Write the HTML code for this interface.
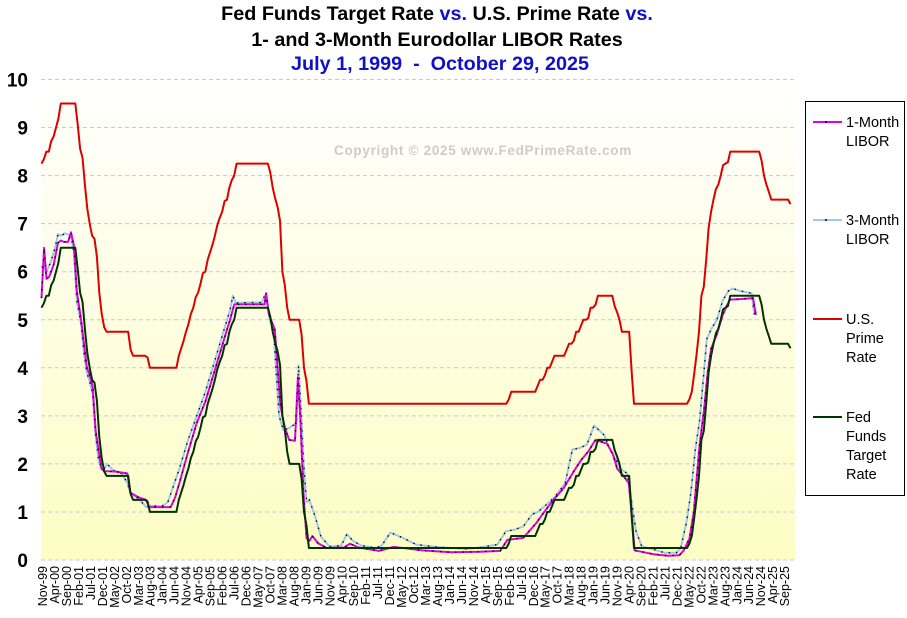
<!DOCTYPE html>
<html><head><meta charset="utf-8"><style>
body{margin:0;background:#fff;}
svg{display:block;font-family:"Liberation Sans",Arial,sans-serif;}
</style></head><body>
<svg id="s" width="907" height="618" viewBox="0 0 907 618" xmlns="http://www.w3.org/2000/svg">
<defs><linearGradient id="bg" x1="0" y1="0" x2="0" y2="1"><stop offset="0" stop-color="#ffffff"/><stop offset="1" stop-color="#fdfdc4"/></linearGradient></defs>
<rect x="41" y="79" width="754" height="481" fill="url(#bg)"/>
<g id="grid"></g>
<text x="437" y="20" text-anchor="middle" font-size="19.8" font-weight="bold">Fed Funds Target Rate <tspan fill="#1010c8">vs.</tspan> U.S. Prime Rate <tspan fill="#1010c8">vs.</tspan></text>
<text x="437" y="46" text-anchor="middle" font-size="19.8" font-weight="bold">1- and 3-Month Eurodollar LIBOR Rates</text>
<text x="440" y="70" text-anchor="middle" font-size="19.8" font-weight="bold" fill="#1010c8" xml:space="preserve">July 1, 1999  -  October 29, 2025</text>
<text x="483" y="155" text-anchor="middle" font-size="13.5" font-weight="bold" fill="#cccccc" letter-spacing="0.7">Copyright © 2025 www.FedPrimeRate.com</text>
<g id="series"></g>
<g id="xl" font-size="12.5"></g>
<rect x="805.5" y="101.5" width="99" height="394" fill="#fff" stroke="#000" stroke-width="1"/>
<g font-size="14.5">
<line x1="813" y1="122" x2="842" y2="122" stroke="#e000e0" stroke-width="2"/><circle cx="826" cy="122" r="1" fill="#000"/>
<text x="846" y="127">1-Month</text><text x="846" y="146">LIBOR</text>
<line x1="813" y1="220" x2="842" y2="220" stroke="#a0c8e8" stroke-width="2"/><circle cx="826" cy="220" r="1" fill="#000"/>
<text x="846" y="225">3-Month</text><text x="846" y="244">LIBOR</text>
<line x1="813" y1="319" x2="842" y2="319" stroke="#dd0000" stroke-width="2"/>
<text x="846" y="324">U.S.</text><text x="846" y="343">Prime</text><text x="846" y="362">Rate</text>
<line x1="813" y1="417" x2="842" y2="417" stroke="#003300" stroke-width="2"/>
<text x="846" y="422">Fed</text><text x="846" y="441">Funds</text><text x="846" y="460">Target</text><text x="846" y="479">Rate</text>
</g>
</svg>
<script>
var NS="http://www.w3.org/2000/svg";
function el(p,t,a,txt){var e=document.createElementNS(NS,t);for(var k in a)e.setAttribute(k,a[k]);if(txt!=null)e.textContent=txt;p.appendChild(e);return e;}
function X(t){return 32+(t-1999.5)*28.9;}
function Y(v){return 560-v*48.05;}
var g=document.getElementById('grid');
for(var i=0;i<=10;i++){el(g,'line',{x1:41,x2:795,y1:Y(i),y2:Y(i),stroke:'#c8c8d8','stroke-dasharray':'4 3','stroke-width':1});
el(g,'text',{x:28,y:Y(i)+7,'text-anchor':'end','font-size':19,'font-weight':'bold'},String(i));}
var mn=['Jan','Feb','Mar','Apr','May','Jun','Jul','Aug','Sep','Oct','Nov','Dec'];
var xl=document.getElementById('xl');
for(var i=0;i<63;i++){var m=10+i*5;var yr=1999+Math.floor(m/12);var mo=m%12;
var lab=mn[mo]+'-'+String(yr%100).padStart(2,'0');var x=43+i*11.97+4;
el(xl,'text',{x:0,y:0,'text-anchor':'end',transform:'translate('+x+',566) rotate(-90)'},lab);}
function d(y,m,dd){return y+(m-1)/12+(dd-1)/365;}
var ch=[[1999.5,5.25],[d(1999,11,16),5.5],[d(2000,2,2),5.75],[d(2000,3,21),6],[d(2000,5,16),6.5],[d(2001,1,3),6],[d(2001,1,31),5.5],[d(2001,3,20),5],[d(2001,4,18),4.5],[d(2001,5,15),4],[d(2001,6,27),3.75],[d(2001,8,21),3.5],[d(2001,9,17),3],[d(2001,10,2),2.5],[d(2001,11,6),2],[d(2001,12,11),1.75],[d(2002,11,6),1.25],[d(2003,6,25),1],[d(2004,6,30),1.25],[d(2004,8,10),1.5],[d(2004,9,21),1.75],[d(2004,11,10),2],[d(2004,12,14),2.25],[d(2005,2,2),2.5],[d(2005,3,22),2.75],[d(2005,5,3),3],[d(2005,6,30),3.25],[d(2005,8,9),3.5],[d(2005,9,20),3.75],[d(2005,11,1),4],[d(2005,12,13),4.25],[d(2006,1,31),4.5],[d(2006,3,28),4.75],[d(2006,5,10),5],[d(2006,6,29),5.25],[d(2007,9,18),4.75],[d(2007,10,31),4.5],[d(2007,12,11),4.25],[d(2008,1,22),3.5],[d(2008,1,30),3],[d(2008,3,18),2.25],[d(2008,4,30),2],[d(2008,10,8),1.5],[d(2008,10,29),1],[d(2008,12,16),0.25],[d(2015,12,16),0.5],[d(2016,12,14),0.75],[d(2017,3,15),1],[d(2017,6,14),1.25],[d(2017,12,13),1.5],[d(2018,3,21),1.75],[d(2018,6,13),2],[d(2018,9,26),2.25],[d(2018,12,19),2.5],[d(2019,7,31),2.25],[d(2019,9,18),2],[d(2019,10,30),1.75],[d(2020,3,3),1.25],[d(2020,3,15),0.25],[d(2022,3,16),0.5],[d(2022,5,4),1],[d(2022,6,15),1.75],[d(2022,7,27),2.5],[d(2022,9,21),3.25],[d(2022,11,2),4],[d(2022,12,14),4.5],[d(2023,2,1),4.75],[d(2023,3,22),5],[d(2023,5,3),5.25],[d(2023,7,26),5.5],[d(2024,9,18),5],[d(2024,11,7),4.75],[d(2024,12,18),4.5],[d(2025,9,17),4.25],[d(2025,10,29),4]];
function ff(t){var v=ch[0][1];for(var i=0;i<ch.length;i++){if(ch[i][0]<=t)v=ch[i][1];}return v;}
function ffa(t){var s=0,n=8;for(var k=0;k<n;k++)s+=ff(t-1/12+k/(12*n));return s/n;}
var fpts=[],ppts=[];
for(var t=1999.83;t<=2025.80;t+=1/12){var v=ffa(t);fpts.push([t,v]);ppts.push([t,v+3]);}
function path(pts){return pts.map(function(p,i){return (i?'L':'M')+X(p[0]).toFixed(1)+' '+Y(p[1]).toFixed(1);}).join('');}
var l1=[[1999.83,5.45],[1999.92,6.5],[2000.0,5.85],[2000.1,5.9],[2000.25,6.15],[2000.4,6.6],[2000.5,6.65],[2000.6,6.62],[2000.75,6.62],[2000.85,6.82],[2000.95,6.55],[2001.05,5.6],[2001.2,5.0],[2001.3,4.5],[2001.4,4.0],[2001.5,3.85],[2001.6,3.6],[2001.7,2.7],[2001.8,2.3],[2001.9,1.9],[2002.0,1.85],[2002.4,1.84],[2002.8,1.8],[2002.9,1.4],[2003.2,1.3],[2003.45,1.25],[2003.55,1.1],[2004.0,1.1],[2004.3,1.1],[2004.45,1.3],[2004.6,1.6],[2004.9,2.25],[2005.2,2.85],[2005.5,3.3],[2005.8,3.9],[2006.1,4.5],[2006.35,5.0],[2006.5,5.32],[2007.0,5.32],[2007.55,5.32],[2007.6,5.55],[2007.7,5.1],[2007.8,4.95],[2007.9,4.8],[2008.0,4.0],[2008.1,3.2],[2008.25,2.75],[2008.4,2.5],[2008.6,2.48],[2008.7,3.8],[2008.78,3.0],[2008.9,1.3],[2009.0,0.45],[2009.1,0.4],[2009.2,0.5],[2009.4,0.35],[2009.7,0.25],[2010.3,0.26],[2010.5,0.34],[2010.8,0.26],[2011.5,0.19],[2012.0,0.27],[2012.5,0.24],[2013.0,0.2],[2014.0,0.16],[2015.0,0.17],[2015.7,0.19],[2015.95,0.42],[2016.5,0.46],[2016.95,0.77],[2017.2,0.98],[2017.5,1.22],[2017.9,1.5],[2018.25,1.85],[2018.5,2.08],[2018.75,2.26],[2019.0,2.5],[2019.4,2.42],[2019.6,2.2],[2019.75,1.9],[2019.95,1.76],[2020.15,1.6],[2020.25,0.95],[2020.35,0.2],[2020.6,0.17],[2021.0,0.12],[2021.5,0.09],[2021.9,0.1],[2022.05,0.2],[2022.25,0.45],[2022.4,1.0],[2022.5,1.7],[2022.6,2.4],[2022.75,3.1],[2022.88,3.9],[2023.0,4.4],[2023.2,4.7],[2023.4,5.1],[2023.55,5.3],[2023.65,5.42],[2024.0,5.43],[2024.45,5.45],[2024.55,5.1]];
var l3=[[1999.83,6.1],[1999.92,6.1],[2000.0,6.0],[2000.15,6.2],[2000.3,6.5],[2000.4,6.78],[2000.5,6.75],[2000.65,6.8],[2000.85,6.75],[2000.95,6.4],[2001.05,5.4],[2001.2,4.9],[2001.3,4.3],[2001.4,3.9],[2001.5,3.7],[2001.6,3.45],[2001.7,2.6],[2001.8,2.1],[2001.9,1.9],[2002.0,1.9],[2002.1,2.0],[2002.3,1.87],[2002.6,1.8],[2002.8,1.6],[2002.9,1.4],[2003.2,1.27],[2003.45,1.1],[2003.6,1.13],[2004.0,1.12],[2004.2,1.2],[2004.4,1.55],[2004.6,1.9],[2004.9,2.5],[2005.2,3.0],[2005.5,3.5],[2005.8,4.1],[2006.1,4.7],[2006.35,5.2],[2006.45,5.5],[2006.55,5.35],[2007.0,5.36],[2007.45,5.36],[2007.55,5.5],[2007.65,5.3],[2007.75,4.95],[2007.85,4.9],[2007.95,3.9],[2008.05,3.0],[2008.2,2.7],[2008.4,2.75],[2008.65,2.85],[2008.72,4.05],[2008.8,3.2],[2008.9,2.0],[2009.0,1.2],[2009.1,1.25],[2009.3,0.9],[2009.5,0.48],[2009.8,0.28],[2010.2,0.3],[2010.4,0.54],[2010.6,0.4],[2010.9,0.3],[2011.4,0.25],[2011.6,0.3],[2011.9,0.57],[2012.3,0.47],[2012.8,0.32],[2013.5,0.27],[2014.5,0.23],[2015.0,0.26],[2015.6,0.32],[2015.9,0.6],[2016.2,0.63],[2016.5,0.7],[2016.8,0.95],[2017.0,1.0],[2017.3,1.15],[2017.6,1.32],[2017.95,1.6],[2018.2,2.3],[2018.45,2.33],[2018.7,2.4],[2018.95,2.8],[2019.3,2.6],[2019.5,2.3],[2019.7,2.1],[2019.85,1.9],[2020.1,1.8],[2020.25,1.2],[2020.4,0.6],[2020.6,0.28],[2021.0,0.22],[2021.4,0.15],[2021.8,0.15],[2021.95,0.25],[2022.15,0.8],[2022.3,1.4],[2022.45,2.3],[2022.6,2.9],[2022.75,3.9],[2022.85,4.6],[2023.0,4.8],[2023.2,5.0],[2023.4,5.4],[2023.6,5.6],[2023.75,5.65],[2024.0,5.6],[2024.4,5.55],[2024.45,5.3],[2024.5,5.1]];
var s=document.getElementById('series');
el(s,'path',{d:path(ppts),fill:'none',stroke:'#dd0000','stroke-width':2,'stroke-linejoin':'round'});
el(s,'path',{d:path(l3),fill:'none',stroke:'#a0c8e8','stroke-width':2,'stroke-linejoin':'round'});
el(s,'path',{d:path(l3),fill:'none',stroke:'#000','stroke-width':1.3,'stroke-dasharray':'1.5 6'});
el(s,'path',{d:path(l1),fill:'none',stroke:'#e000e0','stroke-width':2,'stroke-linejoin':'round'});
el(s,'path',{d:path(l1),fill:'none',stroke:'#000','stroke-width':1.3,'stroke-dasharray':'1.5 6'});
el(s,'path',{d:path(fpts),fill:'none',stroke:'#003300','stroke-width':2,'stroke-linejoin':'round'});
</script>
</body></html>
